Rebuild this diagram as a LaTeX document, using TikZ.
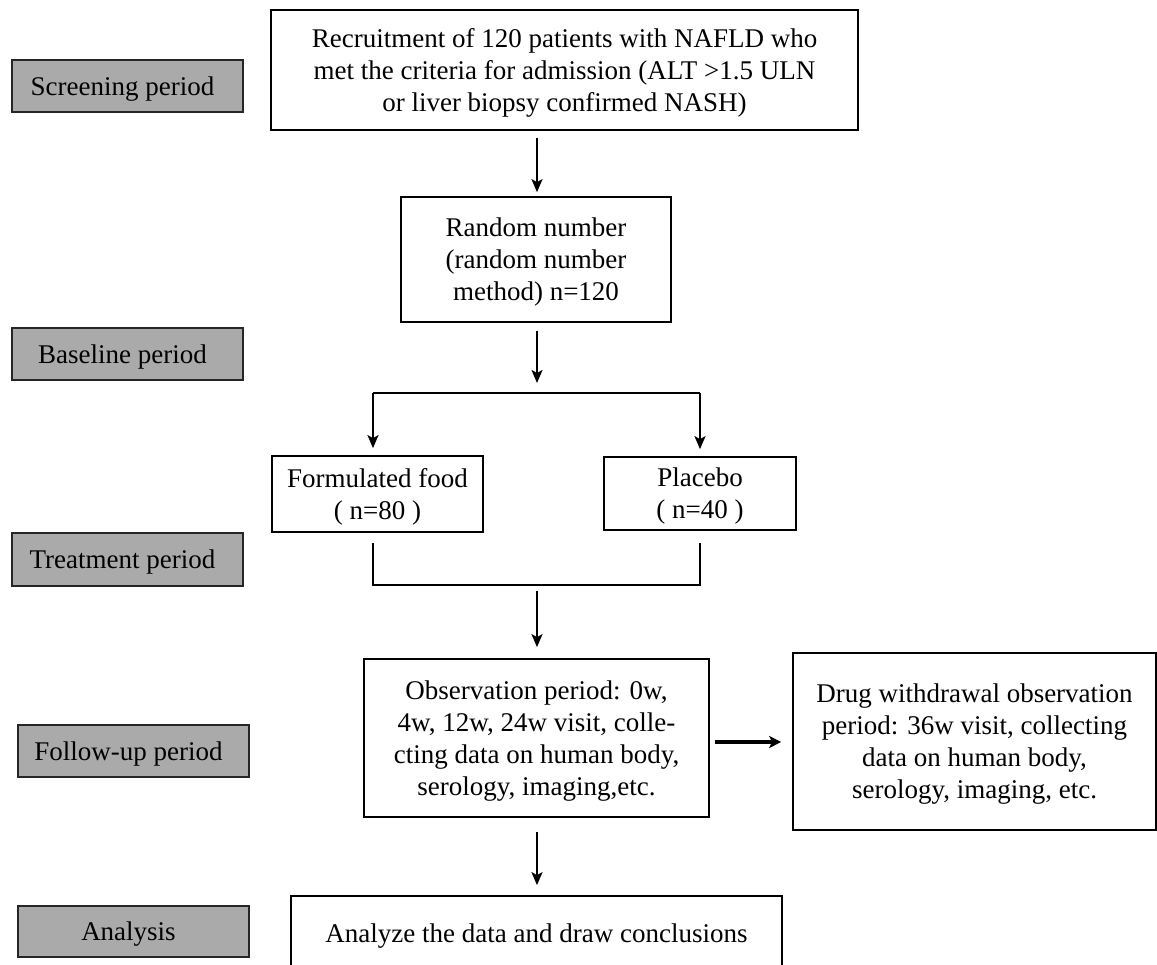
\documentclass[tikz,border=0pt]{standalone}
\usepackage{fontspec}
\setmainfont{Liberation Serif}
\usetikzlibrary{arrows.meta,calc}
\definecolor{periodgray}{RGB}{170,170,170}
\newcommand{\lft}{\hspace*{-10pt}}
\begin{document}
\begin{tikzpicture}[x=1pt,y=-1pt,
  box/.style={draw=black, line width=1.7pt, fill=white, align=center, inner sep=0pt, text depth=0pt, font=\fontsize{27}{32}\selectfont},
  period/.style={draw=black!85, fill=periodgray, line width=1.6pt, inner sep=0pt, text depth=0pt, font=\fontsize{27}{32}\selectfont, minimum width=231pt, minimum height=52pt},
  conn/.style={line width=2pt},
  arr/.style={conn, -{Stealth[length=13pt,width=11pt,inset=3pt]}},
  bigarr/.style={line width=3.8pt, -{Stealth[length=12pt,width=12pt,inset=3pt]}}]
\useasboundingbox (0,0) rectangle (1157,965);
\clip (0,0) rectangle (1157,965);

% period labels
\node[period] (scr) at (127.5,86) {\lft Screening period};
\node[period] (base) at (127.5,354) {\lft Baseline period};
\node[period, minimum height=53pt] (treat) at (127.5,559.5) {\lft Treatment period};
\node[period] (fu) at (133.5,751) {\lft Follow-up period};
\node[period, minimum height=51pt] (ana) at (133.5,931.5) {\lft Analysis};

% flow boxes
\node[box, minimum width=587pt, minimum height=120pt] (top) at (564.5,70)
  {Recruitment of 120 patients with NAFLD who\\met the criteria for admission (ALT >1.5 ULN\\or liver biopsy confirmed NASH)};
\node[box, minimum width=270pt, minimum height=125pt] (rnd) at (536,259.5)
  {Random number\\(random number\\method) n=120};
\node[box, minimum width=211pt, minimum height=76pt] (ff) at (377.5,494)
  {Formulated food\\( n=80 )};
\node[box, minimum width=192pt, minimum height=73pt] (pl) at (700,493.5)
  {Placebo\\( n=40 )};
\node[box, minimum width=345pt, minimum height=158pt] (obs) at (536.5,738)
  {Observation period: 0w,\\4w, 12w, 24w visit, colle-\\cting data on human body,\\serology, imaging,etc.};
\node[box, minimum width=363pt, minimum height=177pt] (drug) at (974.5,741.5)
  {Drug withdrawal observation\\period: 36w visit, collecting\\data on human body,\\serology, imaging, etc.};
\node[box, minimum width=491pt, minimum height=74pt] (anz) at (536.5,933)
  {Analyze the data and draw conclusions};

% junction coordinates
\coordinate (split) at (537,393);
\coordinate (bl) at (373,393);
\coordinate (br) at (700,393);
\coordinate (join) at (537,585);
\coordinate (jl) at (373,585);
\coordinate (jr) at (700,585);

% connectors
\draw[arr, shorten <=7pt, shorten >=4pt] (top.south -| split) -- (rnd.north -| split);
\draw[arr, shorten <=8pt, shorten >=10pt] (rnd.south -| split) -- (split);
\draw[conn] (bl) -- (br);
\draw[arr, shorten >=7pt] (bl) -- (bl |- ff.north);
\draw[arr, shorten >=7pt] (br) -- (br |- pl.north);
\draw[conn, shorten <=10pt, shorten >=12pt] (bl |- ff.south) -- (jl) -- (jr) -- (jr |- pl.south);
\draw[arr, shorten <=6pt, shorten >=11pt] (join) -- (join |- obs.north);
\draw[bigarr, shorten <=5pt, shorten >=11pt] ([yshift=-4pt]obs.east) -- ([yshift=-4pt]obs.east -| drug.west);
\draw[arr, shorten <=14pt, shorten >=10pt] (obs.south -| split) -- (anz.north -| split);
\end{tikzpicture}
\end{document}
